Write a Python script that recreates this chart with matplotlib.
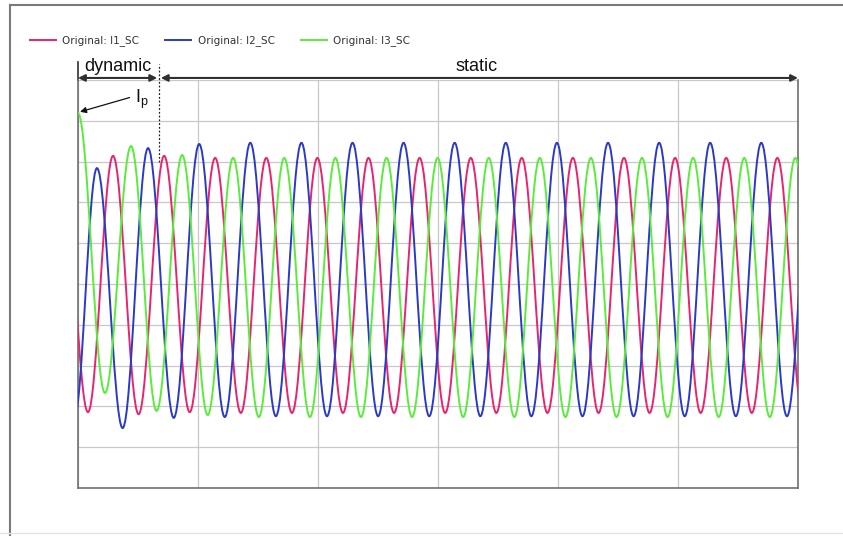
import matplotlib
matplotlib.use("Agg")
import matplotlib.pyplot as plt
from matplotlib.path import Path
from matplotlib.patches import PathPatch
from matplotlib.lines import Line2D

# Extrema of each phase current (time in grid divisions, value in grid divisions)
red_t = [-0.125, 0.083, 0.292, 0.505, 0.718, 0.931, 1.143, 1.357, 1.569, 1.783,
         1.995, 2.208, 2.421, 2.634, 2.847, 3.060, 3.273, 3.486, 3.698, 3.912,
         4.124, 4.338, 4.550, 4.763, 4.976, 5.189, 5.402, 5.615, 5.828, 6.041]
red_v = [7.67, 1.86, 8.14, 1.81, 8.14, 1.86, 8.09, 1.84, 8.09, 1.84,
         8.09, 1.84, 8.09, 1.84, 8.09, 1.84, 8.09, 1.84, 8.09, 1.84,
         8.09, 1.84, 8.09, 1.84, 8.09, 1.84, 8.09, 1.84, 8.09, 1.84]

blue_t = [-0.033, 0.158, 0.372, 0.584, 0.798, 1.010, 1.223, 1.436, 1.649, 1.862,
          2.075, 2.288, 2.501, 2.713, 2.927, 3.139, 3.353, 3.565, 3.778, 3.991,
          4.204, 4.417, 4.630, 4.843, 5.056, 5.268, 5.482, 5.694, 5.908, 6.120]
blue_v = [1.67, 7.84, 1.47, 8.33, 1.72, 8.43, 1.74, 8.46, 1.76, 8.46,
          1.76, 8.46, 1.76, 8.46, 1.76, 8.46, 1.76, 8.46, 1.76, 8.46,
          1.76, 8.46, 1.76, 8.46, 1.76, 8.46, 1.76, 8.46, 1.76, 8.46]

green_t = [0.0, 0.225, 0.442, 0.655, 0.868, 1.081, 1.293, 1.507, 1.719, 1.933,
           2.145, 2.358, 2.571, 2.784, 2.997, 3.210, 3.423, 3.636, 3.848, 4.062,
           4.274, 4.488, 4.700, 4.913, 5.126, 5.339, 5.552, 5.765, 5.978, 6.191]
green_v = [9.19, 2.33, 8.38, 1.89, 8.16, 1.79, 8.09, 1.74, 8.09, 1.74,
           8.09, 1.74, 8.09, 1.74, 8.09, 1.74, 8.09, 1.74, 8.09, 1.74,
           8.09, 1.74, 8.09, 1.74, 8.09, 1.74, 8.09, 1.74, 8.09, 1.74]

labels = ["Original: I1_SC", "Original: I2_SC", "Original: I3_SC"]
colors = ["#e8246e", "#2a3ac6", "#5aec3a"]

t_dynamic_end = 0.675   # boundary dynamic / static
t_end = 6.0


def wave_path(t, v):
    # smooth bezier segments between successive extrema (flat tangent at each peak)
    k = 0.3642
    verts = [(t[0], v[0])]
    codes = [Path.MOVETO]
    for i in range(len(t) - 1):
        h = t[i + 1] - t[i]
        verts += [(t[i] + k * h, v[i]), (t[i + 1] - k * h, v[i + 1]), (t[i + 1], v[i + 1])]
        codes += [Path.CURVE4] * 3
    return Path(verts, codes)


fig = plt.figure(figsize=(8.43, 5.36), dpi=100)
ax = fig.add_axes([78 / 843, 48 / 536, 720 / 843, 408 / 536])

ax.set_xlim(0, t_end)
ax.set_ylim(0, 10)
ax.set_xticks(range(0, 7))
ax.set_yticks(range(0, 11))
ax.grid(True, color="#c8c8c8", lw=0.9)
ax.tick_params(length=0, labelbottom=False, labelleft=False)
for s in ["left", "bottom", "right"]:
    ax.spines[s].set_color("#707070")
    ax.spines[s].set_linewidth(1.2)
ax.spines["top"].set_visible(False)

for t, v, c in zip([red_t, blue_t, green_t], [red_v, blue_v, green_v], colors):
    ax.add_patch(PathPatch(wave_path(t, v), fill=False, edgecolor=c, lw=1.4, zorder=3))

# dynamic / static markers
ax.plot([0, 0], [10, 10.44], color="#303030", lw=1.2, clip_on=False)
ax.plot([t_dynamic_end, t_dynamic_end], [7.99, 10.4], color="#202020", lw=0.9,
        ls=(0, (1.5, 1.5)), clip_on=False, zorder=4)
arrow = dict(arrowstyle="<|-|>", color="#303030", lw=1.5, mutation_scale=10,
             shrinkA=0, shrinkB=0)
ax.annotate("", xy=(0, 10.05), xytext=(0.66, 10.05), arrowprops=arrow,
            annotation_clip=False)
ax.annotate("", xy=(0.69, 10.05), xytext=(t_end, 10.05), arrowprops=arrow,
            annotation_clip=False)
ax.text(0.333, 10.33, "dynamic", ha="center", va="center", fontsize=13,
        family="Liberation Sans", color="#111111")
ax.text(3.32, 10.33, "static", ha="center", va="center", fontsize=13,
        family="Liberation Sans", color="#111111")

# peak current label
ax.annotate("", xy=(0.017, 9.22), xytext=(0.43, 9.57),
            arrowprops=dict(arrowstyle="-|>", color="#111111", lw=0.9,
                            mutation_scale=9, shrinkA=0, shrinkB=0),
            annotation_clip=False)
ax.text(0.535, 9.52, r"$\mathregular{I_p}$", ha="center", va="center",
        fontsize=13, family="Liberation Sans", color="#111111")

handles = [Line2D([], [], color=c, lw=1.4) for c in colors]
fig.legend(handles, labels, loc="center left", bbox_to_anchor=(30 / 843, 1 - 41 / 536),
           ncol=3, frameon=False, fontsize=7.5, handlelength=2.5, handletextpad=0.6,
           columnspacing=2.5, borderpad=0, borderaxespad=0, labelcolor="#333333")

# outer frame of the picture
fig.add_artist(Line2D([10 / 843, 10 / 843], [0, 1 - 5 / 536], color="#7a7a7a", lw=1.5))
fig.add_artist(Line2D([10 / 843, 1], [1 - 5 / 536, 1 - 5 / 536], color="#7a7a7a", lw=1.5))
fig.add_artist(Line2D([0, 1], [3 / 536, 3 / 536], color="#e4e4e4", lw=1.0))

fig.savefig("out.png", dpi=100)
